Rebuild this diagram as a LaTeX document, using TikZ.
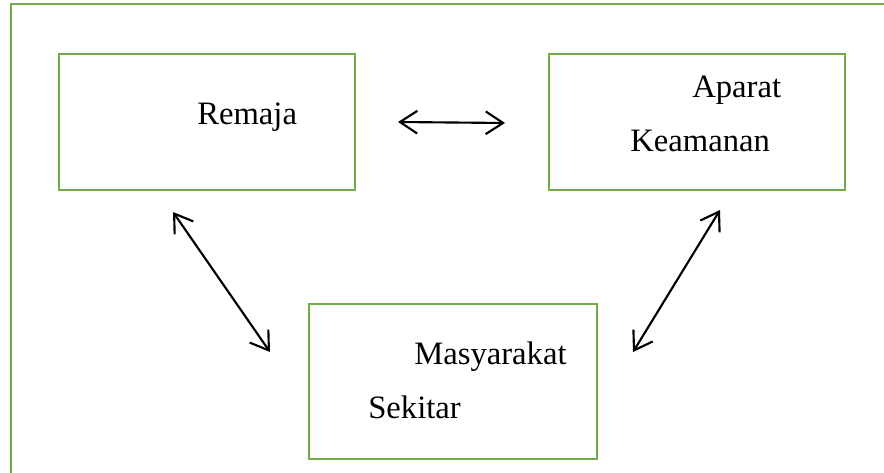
\documentclass[tikz,border=0pt]{standalone}
\usepackage{fontspec}
\setmainfont{Liberation Serif}
\usetikzlibrary{arrows.meta}
\definecolor{boxgreen}{HTML}{70AD47}
\begin{document}
\begin{tikzpicture}[x=0.75pt,y=-0.75pt,
  box/.style={draw=boxgreen,line width=2.1pt,anchor=north west,inner sep=0pt,outer sep=0pt},
  lbl/.style={anchor=base west,inner sep=0pt,font=\fontsize{24.5}{28}\selectfont},
  link/.style={line width=1.6pt,{Straight Barb[length=13pt,width=17pt]}-{Straight Barb[length=13pt,width=17pt]}}]
\useasboundingbox (0,0) rectangle (884,473);
\fill[white] (0,0) rectangle (884,473);
% outer frame
\coordinate (fbl) at (11,476);
\coordinate (ftl) at (11,4);
\coordinate (ftr) at (887,4);
\draw[boxgreen,line width=2.1pt] (fbl) -- (ftl) -- (ftr);
% boxes
\node[box,minimum width=222pt,minimum height=102pt] (remaja) at (59,54) {};
\node[box,minimum width=222pt,minimum height=102pt] (aparat) at (549,54) {};
\node[box,minimum width=216pt,minimum height=116.25pt] (masy) at (309,304) {};
% texts
\node[lbl] (t1) at (197,125) {Remaja};
\node[lbl] (t2) at (692,98) {Aparat};
\node[lbl] (t3) at (630,152) {Keamanan};
\node[lbl] (t4) at (414,365) {Masyarakat};
\node[lbl] (t5) at (368,418) {Sekitar};
% arrow ends
\coordinate (a1) at (398,122);
\coordinate (a2) at (505,123);
\coordinate (b1) at (173,212);
\coordinate (b2) at (270,352);
\coordinate (c1) at (720,210);
\coordinate (c2) at (633,352);
\draw[link] (a1) -- (a2);
\draw[link] (b1) -- (b2);
\draw[link] (c1) -- (c2);
\end{tikzpicture}
\end{document}
